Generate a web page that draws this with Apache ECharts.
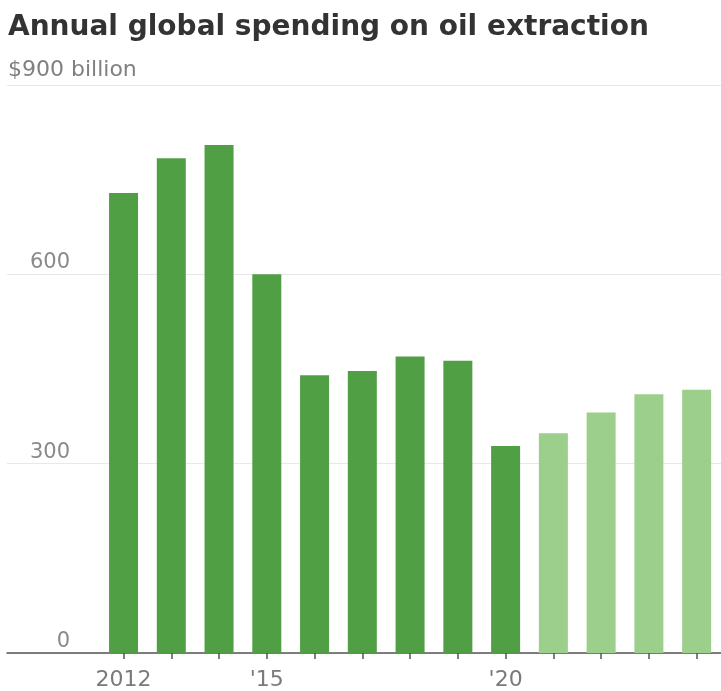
<!DOCTYPE html>
<html>
<head>
<meta charset="utf-8">
<script src="https://cdn.jsdelivr.net/npm/echarts@6/dist/echarts.min.js"></script>
<style>
html,body{margin:0;padding:0;background:#fff;}
#chart{width:721px;height:691px;}
</style>
</head>
<body>
<div id="chart"></div>
<script>
const years = [2012, 2013, 2014, 2015, 2016, 2017, 2018, 2019, 2020, 2021, 2022, 2023, 2024];
const spending = [729, 784, 805, 600, 440, 447, 470, 463, 328, 348, 381, 410, 417];
const projectedFrom = 2021;
const yTicks = [0, 300, 600, 900];
const xLabelYears = [2012, 2015, 2020];
const xLabelText = {2012: '2012', 2015: "'15", 2020: "'20"};

const darkGreen = '#509f45';
const lightGreen = '#9ccf8b';

const chart = echarts.init(document.getElementById('chart'));
chart.setOption({
  animation: false,
  backgroundColor: '#fff',
  title: {
    text: 'Annual global spending on oil extraction',
    left: 3, top: 9,
    textStyle: {fontFamily: 'DejaVu Sans', fontWeight: 'bold', fontSize: 28, color: '#333'},
    subtext: '$900 billion',
    subtextStyle: {fontFamily: 'DejaVu Sans', fontSize: 22, color: '#808080'},
    itemGap: 17
  },
  grid: {left: 7, right: 0, top: 85, bottom: 36},
  xAxis: {
    type: 'value',
    min: 2009.56, max: 2024.51,
    splitLine: {show: false},
    axisLine: {show: true, lineStyle: {color: '#555', width: 1.5}},
    axisTick: {show: true, customValues: years, length: 6, lineStyle: {color: '#555', width: 1.5}},
    axisLabel: {
      customValues: xLabelYears,
      formatter: v => xLabelText[v] || '',
      fontFamily: 'DejaVu Sans', fontSize: 22, color: '#7a7a7a', margin: 16
    }
  },
  yAxis: {
    type: 'value',
    min: 0, max: 900, interval: 300,
    axisLine: {show: false},
    axisTick: {show: false},
    splitLine: {show: true, lineStyle: {color: '#e8e8e8', width: 1}},
    axisLabel: {
      inside: true,
      align: 'right',
      verticalAlign: 'bottom',
      margin: 63,
      padding: [0, 0, 1, 0],
      formatter: v => (v === 900 ? '' : String(v)),
      fontFamily: 'DejaVu Sans', fontSize: 21, color: '#8a8a8a'
    }
  },
  series: [{
    type: 'bar',
    barWidth: 29,
    data: years.map((y, i) => ({
      value: [y, spending[i]],
      itemStyle: {color: y >= projectedFrom ? lightGreen : darkGreen}
    }))
  }]
});
</script>
</body>
</html>
